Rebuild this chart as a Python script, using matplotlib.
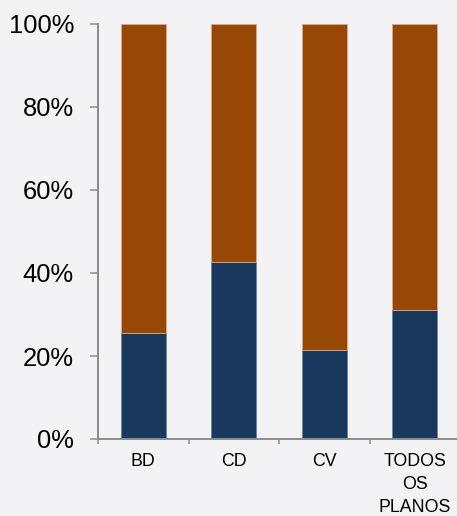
"""Stacked 100% bars per plan type."""

import matplotlib

matplotlib.use("Agg")
import matplotlib.pyplot as plt
import numpy as np

categories = ["BD", "CD", "CV", "TODOS\nOS\nPLANOS"]
lower_share = [25.5, 42.7, 21.4, 31.2]
upper_share = [100 - v for v in lower_share]

NAVY = "#1a375e"
BROWN = "#984806"
AXIS_GRAY = "#8c8c8c"

plt.rcParams["font.family"] = ["Liberation Sans", "DejaVu Sans"]

fig = plt.figure(figsize=(4.57, 5.16), dpi=100, facecolor="#f3f3f5")
W, H = 457, 516
ax = fig.add_axes([98 / W, 1 - 439 / H, (460 - 98) / W, (439 - 24) / H])
ax.set_facecolor("none")

x = np.arange(len(categories))
ax.bar(x, lower_share, width=0.5, color=NAVY, edgecolor="#6d82a3", linewidth=0.6)
ax.bar(x, upper_share, width=0.5, bottom=lower_share, color=BROWN,
       edgecolor="#d9a98a", linewidth=0.6)

ax.set_xlim(-0.5, len(categories) - 0.5)
ax.set_ylim(0, 100)
ax.set_yticks(np.arange(0, 101, 20))
ax.set_yticklabels([f"{v}%" for v in range(0, 101, 20)], fontsize=18.4)
ax.set_xticks(x)
ax.set_xticklabels(categories, fontsize=12.8, linespacing=1.45)
ax.set_xticks(np.arange(-0.5, len(categories), 1), minor=True)
ax.tick_params(axis="x", which="major", length=0, pad=10)
ax.tick_params(axis="x", which="minor", length=3.6, width=1.1, color=AXIS_GRAY)
ax.tick_params(axis="y", length=5.8, width=1.1, color=AXIS_GRAY, pad=11.5)

for side in ("top", "right"):
    ax.spines[side].set_visible(False)
for side in ("left", "bottom"):
    ax.spines[side].set_color(AXIS_GRAY)
    ax.spines[side].set_linewidth(1.4)

fig.savefig("out.png", dpi=100, facecolor=fig.get_facecolor())
